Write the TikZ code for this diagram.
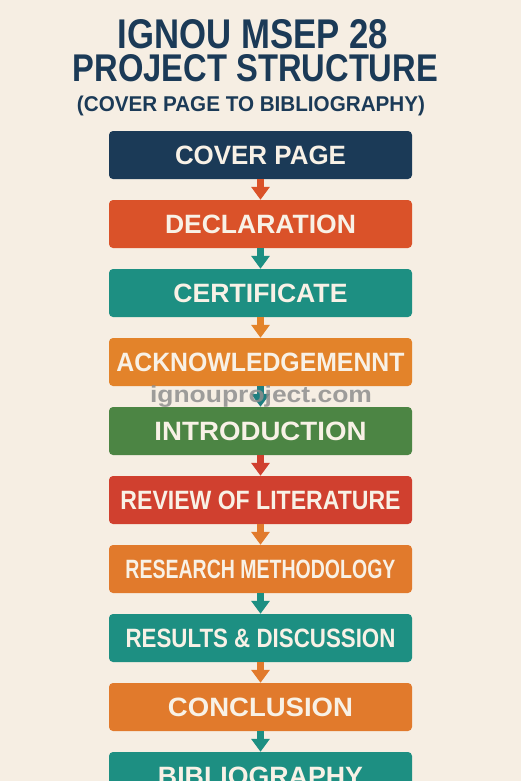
\documentclass[tikz,border=0pt]{standalone}
\usepackage{fontspec}
\usepackage{graphicx}
\setmainfont{Liberation Sans}
\usetikzlibrary{arrows.meta}
\definecolor{bgc}{HTML}{F6EEE3}
\definecolor{navy}{HTML}{1B3A57}
\definecolor{declc}{HTML}{DA5229}
\definecolor{tealc}{HTML}{1D8F82}
\definecolor{orangec}{HTML}{E3832A}
\definecolor{greenc}{HTML}{4C8544}
\definecolor{redc}{HTML}{D0402F}
\definecolor{oranged}{HTML}{E17A2C}
\definecolor{tealb}{HTML}{1F7F80}
\definecolor{txtc}{HTML}{F8F1E6}
\definecolor{wmc}{HTML}{8E8E8E}
\newcommand\boxlab[2]{\resizebox{#1pt}{18.5pt}{\bfseries #2}}
\begin{document}
\begin{tikzpicture}[x=1pt,y=1pt,
  stepbox/.style={rounded corners=4pt, minimum width=303pt, minimum height=48pt, inner sep=0pt, text=txtc},
  flow/.style={line width=7pt, -{Triangle[width=18pt,length=13pt]}},
  titletext/.style={anchor=base, inner sep=0pt, text=navy}]
\useasboundingbox (0,0) rectangle (521,-781);
\fill[bgc] (0,0) rectangle (521,-781);
% title
\node[titletext] (t1) at (253,-49) {\resizebox{270pt}{29pt}{\bfseries IGNOU MSEP 28}};
\node[titletext] (t2) at (255.5,-82) {\resizebox{365pt}{27pt}{\bfseries PROJECT STRUCTURE}};
\node[titletext] (t3) at (251,-112) {\resizebox{348pt}{15.5pt}{\bfseries (COVER PAGE TO BIBLIOGRAPHY)}};
% boxes
\node[stepbox, fill=navy] (b1) at (260.5,-155) {\boxlab{171}{COVER PAGE}};
\node[stepbox, fill=declc] (b2) at (260.5,-224) {\boxlab{191}{DECLARATION}};
\node[stepbox, fill=tealc] (b3) at (260.5,-293) {\boxlab{174}{CERTIFICATE}};
\node[stepbox, fill=orangec] (b4) at (260.5,-362) {\boxlab{288}{ACKNOWLEDGEMENNT}};
\node[stepbox, fill=greenc] (b5) at (260.5,-431) {\boxlab{212}{INTRODUCTION}};
\node[stepbox, fill=redc] (b6) at (260.5,-500) {\boxlab{280}{REVIEW OF LITERATURE}};
\node[stepbox, fill=oranged] (b7) at (260.5,-569) {\boxlab{270}{RESEARCH METHODOLOGY}};
\node[stepbox, fill=tealc] (b8) at (260.5,-638) {\boxlab{270}{RESULTS \& DISCUSSION}};
\node[stepbox, fill=oranged] (b9) at (260.5,-707) {\boxlab{185}{CONCLUSION}};
\node[stepbox, fill=tealc] (b10) at (260.5,-776) {\boxlab{205}{BIBLIOGRAPHY}};
% arrows
\draw[flow, declc] (b1.south) -- (b2.north);
\draw[flow, tealc] (b2.south) -- (b3.north);
\draw[flow, orangec] (b3.south) -- (b4.north);
\draw[flow, tealb] (b4.south) -- (b5.north);
\draw[flow, redc] (b5.south) -- (b6.north);
\draw[flow, oranged] (b6.south) -- (b7.north);
\draw[flow, tealc] (b7.south) -- (b8.north);
\draw[flow, oranged] (b8.south) -- (b9.north);
\draw[flow, tealc] (b9.south) -- (b10.north);
% watermark
\node[anchor=base, inner sep=0pt, text=wmc, opacity=0.85] (wm) at (261,-402) {\scalebox{1.15}[1]{\fontsize{23pt}{23pt}\selectfont\bfseries ignouproject.com}};
\end{tikzpicture}
\end{document}
